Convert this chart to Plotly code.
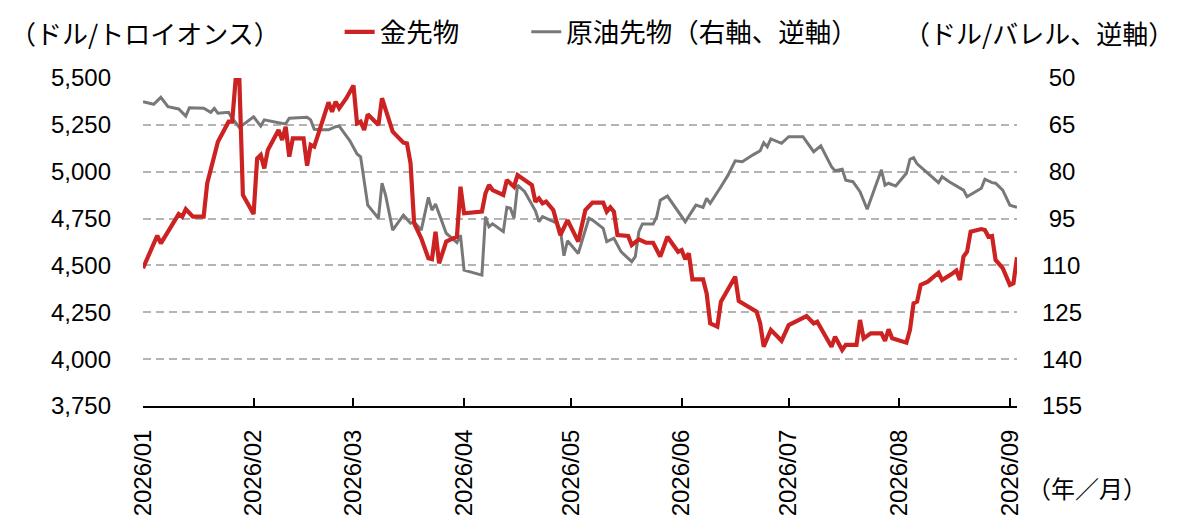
import plotly.graph_objects as go

gold_dates = ["2026-01-01","2026-01-05","2026-01-06","2026-01-11","2026-01-12","2026-01-13","2026-01-15","2026-01-18","2026-01-19","2026-01-22","2026-01-25","2026-01-26","2026-01-27","2026-01-28","2026-01-29",
"2026-02-01","2026-02-02","2026-02-03","2026-02-04","2026-02-05","2026-02-08","2026-02-09","2026-02-10","2026-02-11","2026-02-12","2026-02-15","2026-02-16","2026-02-17","2026-02-18","2026-02-20","2026-02-22","2026-02-23","2026-02-24","2026-02-25","2026-02-27",
"2026-03-01","2026-03-02","2026-03-03","2026-03-04","2026-03-05","2026-03-08","2026-03-09","2026-03-12","2026-03-15","2026-03-16","2026-03-17","2026-03-18","2026-03-20","2026-03-22","2026-03-23","2026-03-24","2026-03-25","2026-03-27","2026-03-28","2026-03-30","2026-03-31",
"2026-04-01","2026-04-06","2026-04-07","2026-04-08","2026-04-09","2026-04-12","2026-04-13","2026-04-15","2026-04-16","2026-04-20","2026-04-21","2026-04-22","2026-04-23","2026-04-24","2026-04-26","2026-04-28","2026-04-30",
"2026-05-03","2026-05-05","2026-05-07","2026-05-10","2026-05-11","2026-05-12","2026-05-13","2026-05-14","2026-05-17","2026-05-18","2026-05-20","2026-05-22","2026-05-24","2026-05-26","2026-05-28","2026-05-31",
"2026-06-01","2026-06-02","2026-06-03","2026-06-04","2026-06-07","2026-06-08","2026-06-09","2026-06-11","2026-06-12","2026-06-15","2026-06-16","2026-06-17","2026-06-19","2026-06-22","2026-06-23","2026-06-24","2026-06-26","2026-06-29",
"2026-07-01","2026-07-03","2026-07-06","2026-07-08","2026-07-09","2026-07-13","2026-07-14","2026-07-16","2026-07-17","2026-07-20","2026-07-21","2026-07-22","2026-07-24","2026-07-27","2026-07-28","2026-07-29","2026-07-30",
"2026-08-03","2026-08-04","2026-08-05","2026-08-06","2026-08-07","2026-08-09","2026-08-12","2026-08-13","2026-08-16","2026-08-17","2026-08-18","2026-08-19","2026-08-20","2026-08-21","2026-08-24","2026-08-25","2026-08-26","2026-08-27","2026-08-28","2026-08-30",
"2026-09-01","2026-09-02","2026-09-03"]
gold_values = [4485,4659,4618,4774,4760,4800,4760,4760,4938,5160,5267,5267,5500,5500,4876,
4774,5071,5089,5018,5116,5223,5169,5240,5080,5178,5178,5032,5143,5134,5258,5370,5320,5374,5338,5392,
5460,5258,5267,5223,5306,5249,5392,5214,5155,5151,5045,4725,4645,4538,4533,4680,4511,4627,4636,4653,4920,
4778,4787,4885,4929,4902,4876,4956,4920,4982,4929,4840,4858,4831,4840,4796,4662,4742,
4627,4796,4835,4835,4787,4810,4787,4662,4657,4609,4639,4621,4621,4547,4653,4573,
4582,4533,4565,4426,4426,4351,4191,4173,4307,4413,4440,4310,4289,4253,4191,4066,4156,4098,
4182,4200,4230,4191,4200,4066,4120,4049,4076,4076,4209,4111,4138,4138,4098,4159,4111,
4088,4156,4298,4307,4396,4413,4461,4422,4458,4472,4422,4547,4573,4680,4694,4689,4653,4657,4529,4485,
4396,4405,4543]

oil_dates = ["2026-01-01","2026-01-04","2026-01-06","2026-01-08","2026-01-11","2026-01-13","2026-01-14","2026-01-18","2026-01-20","2026-01-21","2026-01-22","2026-01-25","2026-01-26","2026-01-28","2026-01-29",
"2026-02-01","2026-02-03","2026-02-04","2026-02-08","2026-02-10","2026-02-11","2026-02-16","2026-02-17","2026-02-18","2026-02-20","2026-02-22","2026-02-24","2026-02-25","2026-02-28",
"2026-03-02","2026-03-03","2026-03-05","2026-03-08","2026-03-09","2026-03-10","2026-03-12","2026-03-15","2026-03-17","2026-03-18","2026-03-20","2026-03-22","2026-03-23","2026-03-24","2026-03-27","2026-03-30","2026-03-31",
"2026-04-01","2026-04-06","2026-04-07","2026-04-08","2026-04-09","2026-04-12","2026-04-13","2026-04-14","2026-04-15","2026-04-16","2026-04-18","2026-04-21","2026-04-22","2026-04-23","2026-04-27","2026-04-28","2026-04-29","2026-04-30",
"2026-05-03","2026-05-06","2026-05-07","2026-05-10","2026-05-11","2026-05-13","2026-05-15","2026-05-18","2026-05-19","2026-05-20","2026-05-21","2026-05-24","2026-05-25","2026-05-26","2026-05-28",
"2026-06-02","2026-06-05","2026-06-07","2026-06-08","2026-06-09","2026-06-12","2026-06-14","2026-06-16","2026-06-18","2026-06-21","2026-06-23","2026-06-24","2026-06-25","2026-06-26","2026-06-29",
"2026-07-01","2026-07-05","2026-07-08","2026-07-10","2026-07-13","2026-07-14","2026-07-16","2026-07-17","2026-07-19","2026-07-21","2026-07-23","2026-07-27","2026-07-28","2026-07-29","2026-07-31",
"2026-08-03","2026-08-04","2026-08-05","2026-08-06","2026-08-12","2026-08-13","2026-08-15","2026-08-19","2026-08-20","2026-08-24","2026-08-25","2026-08-27","2026-08-28","2026-08-30",
"2026-09-01","2026-09-03"]
oil_values = [57.6,58.4,56.2,59.2,59.9,62.2,59.5,59.7,61.0,59.7,61.3,61.0,62.9,65.8,65.0,
62.4,65.4,63.4,64.3,64.7,62.9,62.6,63.4,66.4,66.6,66.6,65.6,65.4,70.1,
74.3,75.2,90.7,94.9,83.7,87.5,98.7,93.9,96.5,96.0,98.7,88.2,92.3,90.3,99.7,102.7,100.3,
111.5,113.1,94.4,97.6,96.7,99.2,91.4,91.7,94.9,84.3,86.4,92.5,96.0,94.4,96.5,98.7,106.9,102.1,
106.2,94.9,95.5,98.1,102.4,101.3,105.6,108.8,107.2,99.2,96.7,96.7,94.4,89.1,87.8,
96.0,90.7,91.4,88.5,90.1,84.8,81.1,76.5,76.8,74.6,73.3,70.7,72.0,69.5,70.9,
68.8,68.8,73.6,71.7,78.4,79.7,79.2,82.7,83.2,86.4,92.0,79.4,84.3,83.7,84.6,
80.5,76.0,75.5,77.5,83.5,81.6,83.2,85.9,88.0,85.3,82.4,83.5,83.7,85.9,
90.7,91.4]

month_ticks = ["2026-01-01","2026-02-01","2026-03-01","2026-04-01","2026-05-01","2026-06-01","2026-07-01","2026-08-01","2026-09-01"]
month_labels = ["2026/01","2026/02","2026/03","2026/04","2026/05","2026/06","2026/07","2026/08","2026/09"]
gold_ticks = [3750,4000,4250,4500,4750,5000,5250,5500]
oil_ticks = [50,65,80,95,110,125,140,155]

FONT = "Liberation Sans, Arial, Noto Sans CJK JP, sans-serif"
JFONT = "Noto Sans CJK JP, sans-serif"
RED = "#cc2222"
GRAY = "#787878"

fig = go.Figure()
fig.add_trace(go.Scatter(x=gold_dates, y=gold_values, name="金先物\u3000" + "\u00a0" * 6, mode="lines",
                         line=dict(color=RED, width=4.2), yaxis="y2"))
fig.add_trace(go.Scatter(x=oil_dates, y=oil_values, name="原油先物（右軸、逆軸）", mode="lines",
                         line=dict(color=GRAY, width=3), yaxis="y"))

oil_text = [("\u00a0" + str(v)) if v < 100 else str(v) for v in oil_ticks]

fig.update_layout(
    width=1179, height=525,
    margin=dict(l=135, r=170, t=70, b=127, autoexpand=False),
    paper_bgcolor="white", plot_bgcolor="white",
    font=dict(family=FONT, size=24, color="black"),
    showlegend=True,
    legend=dict(orientation="h", x=0.225, xanchor="left", y=1.14, yanchor="middle",
                font=dict(family=JFONT, size=26.5), bgcolor="rgba(0,0,0,0)",
                tracegroupgap=0),
    xaxis=dict(type="date", range=["2026-01-01", "2026-09-03"],
               tickvals=month_ticks, ticktext=month_labels, tickangle=-90,
               ticks="inside", ticklen=8, tickwidth=2, tickcolor="black",
               showline=True, linecolor="black", linewidth=2,
               showgrid=False, zeroline=False, ticklabelstandoff=12,
               tickfont=dict(family=FONT, size=24)),
    yaxis=dict(range=[155, 50], side="right", tickvals=oil_ticks, ticktext=oil_text,
               showgrid=True, gridcolor="#b4b4b4", gridwidth=1.5, griddash="8px,5px",
               zeroline=False, showline=False, ticks="", ticklabelstandoff=24,
               tickfont=dict(family=FONT, size=24)),
    yaxis2=dict(range=[3750, 5500], side="left", overlaying="y", tickvals=gold_ticks,
                tickformat=",", showgrid=False, zeroline=False, showline=False, ticks="",
                ticklabelstandoff=31, tickfont=dict(family=FONT, size=24)),
    annotations=[
        dict(text="（ドル/トロイオンス）", xref="paper", yref="paper", x=-0.154, y=1.14,
             xanchor="left", yanchor="middle", showarrow=False, font=dict(family=JFONT, size=26)),
        dict(text="（ドル/バレル、逆軸）", xref="paper", yref="paper", x=0.868, y=1.14,
             xanchor="left", yanchor="middle", showarrow=False, font=dict(family=JFONT, size=26)),
        dict(text="（年／月）", xref="paper", yref="paper", x=1.009, y=-0.247,
             xanchor="left", yanchor="middle", showarrow=False, font=dict(family=JFONT, size=24)),
    ],
)

fig.write_html("out.html")
